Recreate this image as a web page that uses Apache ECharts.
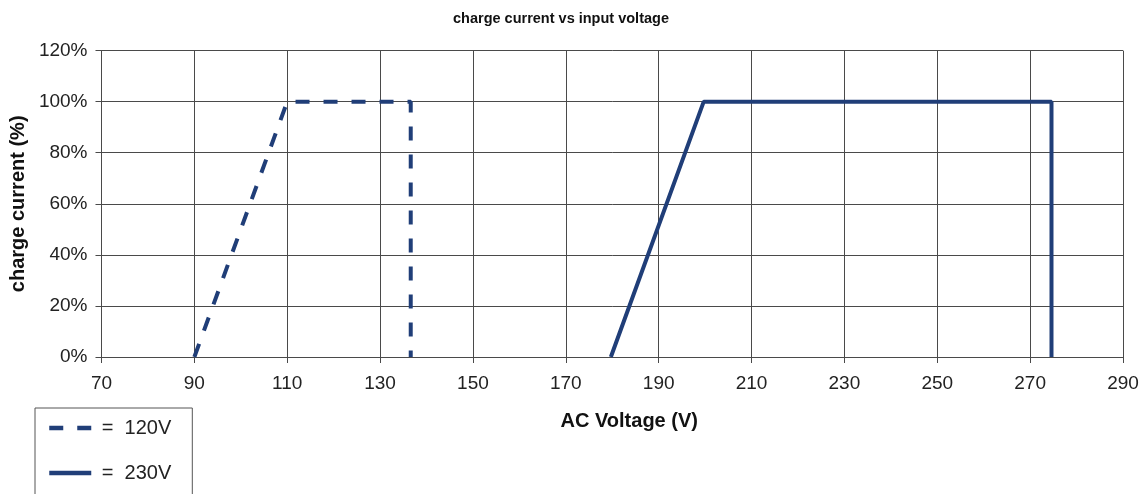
<!DOCTYPE html>
<html>
<head>
<meta charset="utf-8">
<script src="https://cdn.jsdelivr.net/npm/echarts@6/dist/echarts.min.js"></script>
<style>
html,body{margin:0;padding:0;background:#fff;}
#chart{width:1146px;height:494px;}
</style>
</head>
<body>
<div id="chart"></div>
<script>
const seriesNames = ['120V', '230V'];
const voltage120 = [90, 110, 136.6, 136.6];
const current120 = [0, 100, 100, 0];
const voltage230 = [179.7, 199.7, 274.6, 274.6];
const current230 = [0, 100, 100, 0];
const xTicks = [70, 90, 110, 130, 150, 170, 190, 210, 230, 250, 270, 290];
const yTicks = [0, 20, 40, 60, 80, 100, 120];

const FONT = "'Liberation Sans', Arial, sans-serif";
const LINE = '#203e78';
const GRID = '#4a4a4a';

const chart = echarts.init(document.getElementById('chart'));
chart.setOption({
  animation: false,
  backgroundColor: '#fff',
  title: {
    text: 'charge current vs input voltage',
    left: 448,
    top: 6,
    textStyle: { fontFamily: FONT, fontSize: 14.5, fontWeight: 'bold', color: '#111' }
  },
  grid: { left: 100, right: 23, top: 50.6, bottom: 137 },
  legend: {
    orient: 'vertical',
    left: 35,
    top: 408,
    height: 130,
    padding: [10, 21, 14, 12],
    borderColor: '#555',
    borderWidth: 1,
    itemWidth: 42,
    itemHeight: 14,
    itemGap: 25,
    itemTextGap: 14,
    data: seriesNames,
    formatter: n => ' =  ' + n,
    itemStyle: { color: 'rgba(0,0,0,0)', borderWidth: 0, opacity: 0 },
    lineStyle: { width: 4.5 },
    textStyle: { fontFamily: FONT, fontSize: 20, color: '#222', lineHeight: 20 }
  },
  xAxis: {
    type: 'value',
    min: xTicks[0],
    max: xTicks[xTicks.length - 1],
    interval: 20,
    name: 'AC Voltage (V)',
    nameLocation: 'middle',
    nameGap: 54,
    nameTextStyle: { fontFamily: FONT, fontSize: 20, fontWeight: 'bold', color: '#111', padding: [0, 0, 0, 34] },
    axisLine: { show: true, lineStyle: { color: GRID, width: 1 } },
    axisTick: { show: true, length: 6, lineStyle: { color: GRID } },
    axisLabel: { fontFamily: FONT, fontSize: 19, color: '#222', margin: 17 },
    splitLine: { show: true, lineStyle: { color: GRID, width: 1 } }
  },
  yAxis: {
    type: 'value',
    min: yTicks[0],
    max: yTicks[yTicks.length - 1],
    interval: 20,
    name: 'charge current (%)',
    nameLocation: 'middle',
    nameGap: 72,
    nameTextStyle: { fontFamily: FONT, fontSize: 20, fontWeight: 'bold', color: '#111' },
    axisLine: { show: true, lineStyle: { color: GRID, width: 1 } },
    axisTick: { show: true, length: 6, lineStyle: { color: GRID } },
    axisLabel: { fontFamily: FONT, fontSize: 19, color: '#222', margin: 14, formatter: '{value}%' },
    splitLine: { show: true, lineStyle: { color: GRID, width: 1 } }
  },
  series: [
    {
      name: seriesNames[0],
      type: 'line',
      symbol: 'none',
      data: voltage120.map((v, i) => [v, current120[i]]),
      lineStyle: { color: LINE, width: 4, type: [14, 14], cap: 'butt' },
      itemStyle: { color: LINE }
    },
    {
      name: seriesNames[1],
      type: 'line',
      symbol: 'none',
      data: voltage230.map((v, i) => [v, current230[i]]),
      lineStyle: { color: LINE, width: 4, type: 'solid' },
      itemStyle: { color: LINE }
    }
  ]
});
</script>
</body>
</html>
